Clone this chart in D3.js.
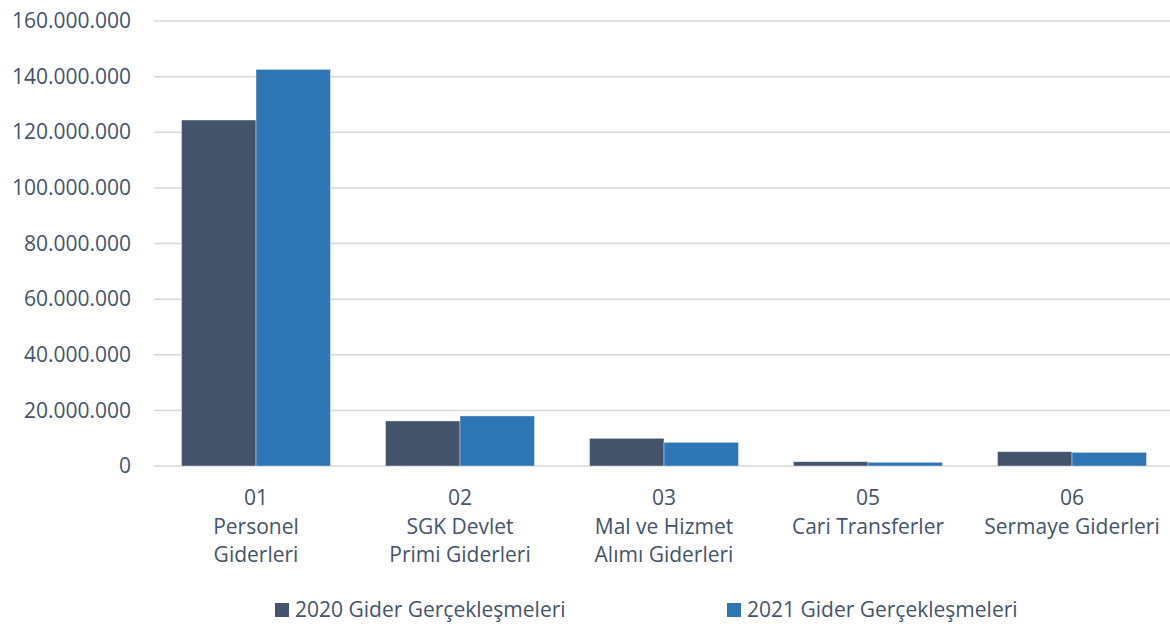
<!DOCTYPE html>
<html><head><meta charset="utf-8">
<script src="https://cdn.jsdelivr.net/npm/d3@7"></script>
<style>body{margin:0;background:#fff}svg{display:block}</style>
</head><body>
<svg id="c" width="1170" height="624"></svg>
<script>
const categories = [["01","Personel","Giderleri"],["02","SGK Devlet","Primi Giderleri"],["03","Mal ve Hizmet","Alımı Giderleri"],["05","Cari Transferler"],["06","Sermaye Giderleri"]];
const seriesNames = ["2020 Gider Gerçekleşmeleri","2021 Gider Gerçekleşmeleri"];
const values2020 = [124400000, 16200000, 9950000, 1550000, 5150000];
const values2021 = [142600000, 18000000, 8500000, 1330000, 4900000];
const yTicks = [0,20000000,40000000,60000000,80000000,100000000,120000000,140000000,160000000];
const colors = ["#44546A","#2E75B6"];
const textColor = "#44546A";
const font = "'Open Sans', 'Noto Sans', sans-serif";
const fontSize = "21px";

const svg = d3.select("#c");
const y = d3.scaleLinear().domain([0,160000000]).range([466,21]);
const x = d3.scaleBand().domain(d3.range(categories.length)).range([154,1174]).paddingInner(0.27).paddingOuter(0.135);
const xs = d3.scaleBand().domain([0,1]).range([0,x.bandwidth()]);

const fmt = v => d3.format(",")(v).replace(/,/g,".");

// gridlines
svg.append("g").selectAll("line").data(yTicks).join("line")
  .attr("x1",154).attr("x2",1170).attr("y1",d=>y(d)).attr("y2",d=>y(d))
  .attr("stroke","#d9d9d9").attr("stroke-width",1.5);

// y axis labels
const yAxis = d3.axisLeft(y).tickValues(yTicks).tickFormat(fmt).tickSize(0).tickPadding(0);
const ga = svg.append("g").attr("transform","translate(131,0)").call(yAxis);
ga.select(".domain").remove();
ga.selectAll("text").attr("fill",textColor).style("font-family",font).style("font-size",fontSize);

// bars
const data = [values2020, values2021];
data.forEach((vals,si)=>{
  svg.append("g").selectAll("rect").data(vals).join("rect")
    .attr("x",(d,i)=>x(i)+xs(si)).attr("width",xs.bandwidth())
    .attr("y",d=>y(d)).attr("height",d=>y(0)-y(d))
    .attr("fill",colors[si]).attr("stroke","#ffffff").attr("stroke-opacity",0.5).attr("stroke-width",0.75);
});

// category labels
const cg = svg.append("g");
categories.forEach((lines,i)=>{
  const t = cg.append("text").attr("text-anchor","middle").attr("fill",textColor)
    .style("font-family",font).style("font-size",fontSize);
  lines.forEach((ln,j)=>{
    t.append("tspan").attr("x",x(i)+x.bandwidth()/2).attr("y",505+j*28.7).text(ln);
  });
});

// legend
const legX = [275,727];
seriesNames.forEach((n,i)=>{
  svg.append("rect").attr("x",legX[i]).attr("y",603).attr("width",14).attr("height",14).attr("fill",colors[i]);
  svg.append("text").attr("x",legX[i]+20).attr("y",617).attr("fill",textColor)
    .style("font-family",font).style("font-size",fontSize).text(n);
});
</script>
</body></html>
